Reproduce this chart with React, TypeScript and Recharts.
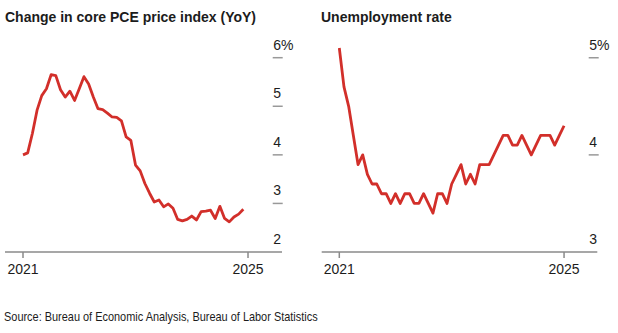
import React from 'react';
import { LineChart, Line, XAxis, YAxis } from 'recharts';

// month index 0 = start of 2021, 48 = start of 2025
const xTicks = [0, 48];
const xTickLabels = ['2021', '2025'];

const pceValues = [
  4.0, 4.04, 4.44, 4.92, 5.22, 5.36, 5.65, 5.63, 5.34, 5.19, 5.31, 5.12,
  5.36, 5.61, 5.46, 5.19, 4.95, 4.93, 4.86, 4.78, 4.77, 4.7, 4.37, 4.3,
  3.79, 3.67, 3.41, 3.21, 3.03, 3.07, 2.93, 2.99, 2.9, 2.67, 2.64, 2.67,
  2.74, 2.66, 2.83, 2.84, 2.86, 2.69, 2.94, 2.69, 2.62, 2.72, 2.78, 2.88,
];
const pceTicks = [2, 3, 4, 5, 6];

const unrateValues = [
  5.1, 4.7, 4.5, 4.2, 3.9, 4.0, 3.8, 3.7, 3.7, 3.6, 3.6, 3.5,
  3.6, 3.5, 3.6, 3.6, 3.5, 3.5, 3.6, 3.5, 3.4, 3.6, 3.6, 3.5,
  3.7, 3.8, 3.9, 3.7, 3.8, 3.7, 3.9, 3.9, 3.9, 4.0, 4.1, 4.2,
  4.2, 4.1, 4.1, 4.2, 4.1, 4.0, 4.1, 4.2, 4.2, 4.2, 4.1, 4.2, 4.3,
];
const unrateTicks = [3, 4, 5];

const RED = '#d22f2a';
const TEXT = '#1c1c1c';
const FONT = "'Liberation Sans', Arial, Helvetica, sans-serif";

const pceData = pceValues.map((v, i) => ({ i, v }));
const unrateData = unrateValues.map((v, i) => ({ i, v }));

function makeYTick(tickX: number, ticks: number[]) {
  const top = Math.max(...ticks);
  const bottom = Math.min(...ticks);
  return (props: any) => {
    const { y, payload } = props;
    const label = payload.value === top ? `${payload.value}%` : `${payload.value}`;
    return (
      <g>
        {payload.value !== bottom && (
          <line x1={tickX} x2={tickX + 10} y1={y} y2={y} stroke="#999" strokeWidth={1.5} />
        )}
        <text x={tickX + 0.5} y={y - 8} fontSize={14} fill={TEXT} textAnchor="start">
          {label}
        </text>
      </g>
    );
  };
}

const xLabel = (v: number) => xTickLabels[xTicks.indexOf(v)];

function Panel({ data, domain, ticks, xDomain, margin, tickX }: any) {
  return (
    <LineChart width={300} height={290} data={data} margin={margin} style={{ fontFamily: FONT }}>
      <XAxis
        type="number"
        dataKey="i"
        domain={xDomain}
        ticks={xTicks}
        interval={0}
        tickFormatter={xLabel}
        axisLine={{ stroke: '#8a8a8a', strokeWidth: 1.5 }}
        tickLine={{ stroke: '#8a8a8a', strokeWidth: 1.5 }}
        tickSize={6}
        tickMargin={6}
        height={30}
        tick={{ fontSize: 14, fill: TEXT }}
      />
      <YAxis
        orientation="right"
        type="number"
        domain={domain}
        ticks={ticks}
        interval={0}
        width={10}
        axisLine={false}
        tickLine={false}
        tick={makeYTick(tickX, ticks)}
      />
      <Line
        type="linear"
        dataKey="v"
        stroke={RED}
        strokeWidth={2.8}
        dot={false}
        isAnimationActive={false}
        strokeLinejoin="round"
      />
    </LineChart>
  );
}

export default function App() {
  return (
    <div
      style={{
        position: 'absolute',
        left: 0,
        top: 0,
        width: 618,
        height: 333,
        background: '#fff',
        fontFamily: FONT,
        color: TEXT,
      }}
    >
      <div style={{ position: 'absolute', left: 5, top: 9, fontSize: 14, fontWeight: 'bold', lineHeight: '16px' }}>
        Change in core PCE price index (YoY)
      </div>
      <div style={{ position: 'absolute', left: 321, top: 9, fontSize: 14, fontWeight: 'bold', lineHeight: '16px' }}>
        Unemployment rate
      </div>
      <div style={{ position: 'absolute', left: 0, top: 0 }}>
        <Panel
          data={pceData}
          domain={[2, 6]}
          ticks={pceTicks}
          xDomain={[-3.84, 55.25]}
          margin={{ top: 57.7, right: 8, bottom: 8, left: 5 }}
          tickX={272.7}
        />
      </div>
      <div style={{ position: 'absolute', left: 310, top: 0 }}>
        <Panel
          data={unrateData}
          domain={[3, 5.12]}
          ticks={unrateTicks}
          xDomain={[-3.76, 55.1]}
          margin={{ top: 46.1, right: 2.7, bottom: 8, left: 11.7 }}
          tickX={278.7}
        />
      </div>
      <div
        style={{
          position: 'absolute',
          left: 4,
          top: 308,
          fontSize: 13.5,
          lineHeight: '17px',
          whiteSpace: 'nowrap',
          transform: 'scaleX(0.81)',
          transformOrigin: '0 0',
        }}
      >
        Source: Bureau of Economic Analysis, Bureau of Labor Statistics
      </div>
    </div>
  );
}
